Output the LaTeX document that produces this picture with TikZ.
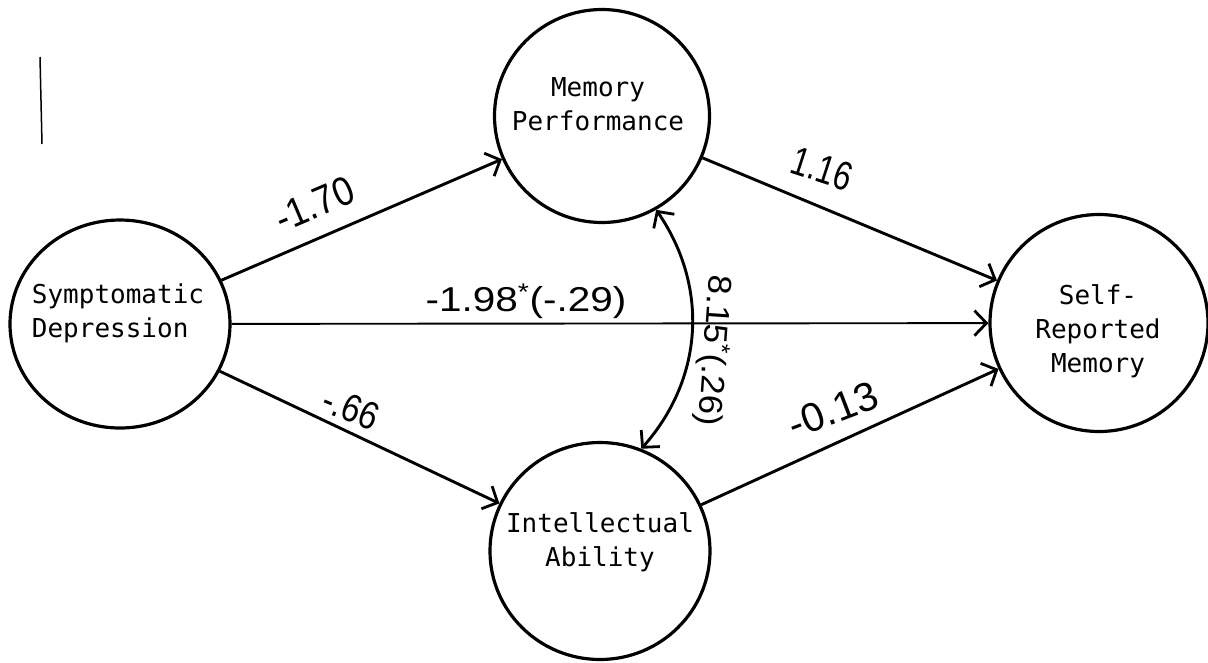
\documentclass[tikz,border=0pt]{standalone}
\usepackage{fontspec}
\usepackage{graphicx}
\setmonofont{DejaVu Sans Mono}
\newfontfamily\handfont{Liberation Sans}
\usetikzlibrary{arrows.meta,shapes.geometric}
\tikzset{
  var/.style={draw, ellipse, line width=3.2pt, inner sep=0pt},
  vartext/.style={font=\ttfamily\fontsize{26}{34}\selectfont, align=center, inner sep=0pt},
  barb/.tip={Straight Barb[length=12pt,width=25pt,line width=2.8pt]},
  pathline/.style={line width=2.9pt, -barb},
  dblpath/.style={line width=2.9pt, barb-barb},
  coef/.style={inner sep=0pt, anchor=base, font=\handfont\fontsize{30}{32}\selectfont},
}
\newcommand{\hw}[3]{\scalebox{#1}[#2]{#3}}
\begin{document}
\begin{tikzpicture}[x=1pt,y=-1pt]
\useasboundingbox[fill=white] (0,0) rectangle (1208,662);
% variables
\node[var, minimum width=220pt, minimum height=208pt] (sd) at (120,324) {};
\node[var, minimum width=215pt, minimum height=213pt] (mp) at (602,116) {};
\node[var, minimum width=220pt, minimum height=217pt] (ia) at (600,551) {};
\node[var, minimum width=218pt, minimum height=217pt] (srm) at (1099,323) {};
\node[vartext, align=left] (sdt) at (118,313) {Symptomatic\\Depression};
\node[vartext] (mpt) at (598,104) {Memory\\Performance};
\node[vartext] (iat) at (600,542) {Intellectual\\Ability};
\node[vartext] (srmt) at (1098,331) {Self-\\Reported\\Memory};
% paths
\draw[pathline] (sd) -- (mp);
\draw[pathline, line width=1.9pt] (sd) -- (srm);
\draw[pathline] (sd) -- (ia);
\draw[pathline] (mp) -- (srm);
\draw[pathline] (ia) -- (srm);
\draw[dblpath] (mp.-60) to[bend left=38] (ia.68);
% coefficients
\node[coef, rotate=23] (c1) at (320,217) {\hw{1.2}{1.35}{-1.70}};
\node[coef] (c2) at (526,311) {\hw{1.35}{1.15}{-1.98\textsuperscript{*}(-.29)}};
\node[coef, rotate=-22] (c3) at (346,421) {\hw{1.1}{1.3}{-.66}};
\node[coef, rotate=-18] (c4) at (818,182) {\hw{1.05}{1.35}{1.16}};
\node[coef, rotate=21] (c5) at (838,423) {\hw{1.35}{1.35}{-0.13}};
\node[coef, rotate=-94] (c6) at (704,350) {\hw{1.17}{1.1}{8.15\textsuperscript{*}(.26)}};
% stray mark
\coordinate (v1) at (40,57);
\coordinate (v2) at (42,144);
\draw[line width=1.5pt] (v1) -- (v2);
\end{tikzpicture}
\end{document}
